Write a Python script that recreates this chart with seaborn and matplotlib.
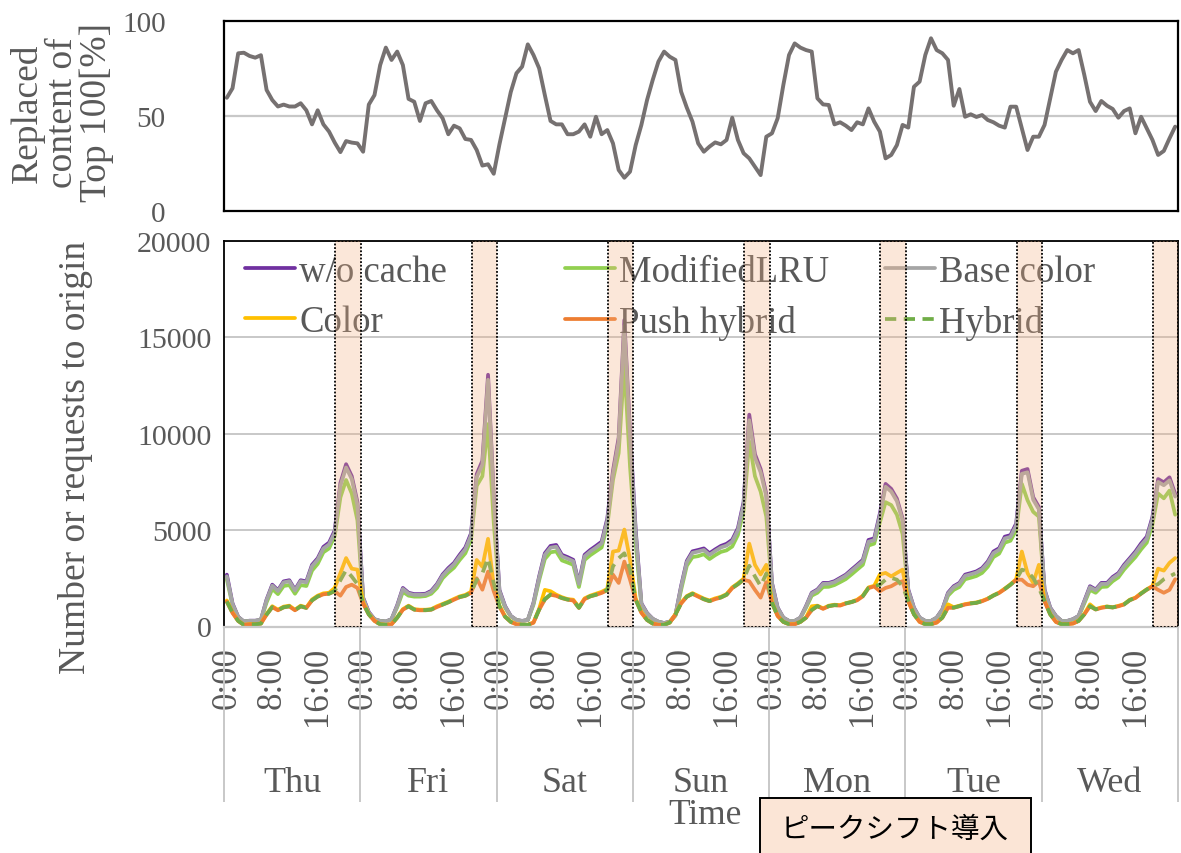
import numpy as np
import pandas as pd
import matplotlib
matplotlib.use("Agg")
import matplotlib.pyplot as plt
import seaborn as sns
from matplotlib.lines import Line2D
from matplotlib.patches import Rectangle

# ---------------- data ----------------
days = ["Thu", "Fri", "Sat", "Sun", "Mon", "Tue", "Wed"]
hour_ticks = [0, 8, 16]
hour_tick_labels = ["0:00", "8:00", "16:00"]

replaced_top100 = [
    59.6, 64.6, 83.0, 83.3, 81.6, 80.7, 82.0, 63.7, 58.4, 55.0, 56.0, 55.0, 55.0, 56.7, 53.0, 45.6, 53.0, 45.6, 41.8, 36.0, 31.0, 36.8, 36.0, 35.6,
    31.2, 56.0, 61.0, 76.8, 86.0, 79.5, 83.9, 76.8, 59.0, 57.5, 47.4, 56.7, 57.9, 53.0, 48.8, 40.4, 44.9, 43.5, 37.9, 37.4, 32.1, 23.9, 24.6, 19.6,
    35.0, 48.8, 62.6, 72.5, 76.0, 87.7, 82.1, 75.1, 61.0, 47.4, 45.6, 45.6, 40.4, 40.4, 41.8, 45.6, 39.1, 49.6, 40.4, 42.6, 35.6, 21.6, 17.5, 20.7,
    34.7, 45.3, 58.4, 69.0, 78.6, 83.9, 81.2, 79.5, 62.8, 54.4, 47.0, 35.6, 31.2, 33.9, 36.1, 35.1, 37.4, 49.1, 37.4, 30.4, 27.7, 23.3, 18.9, 39.1,
    40.9, 48.8, 66.3, 82.1, 88.2, 86.0, 84.7, 83.9, 59.3, 56.1, 55.8, 45.6, 46.7, 44.9, 42.6, 46.7, 45.6, 54.0, 47.0, 41.8, 27.7, 29.5, 34.7, 45.3,
    43.9, 65.4, 68.1, 82.1, 90.9, 84.7, 83.0, 79.5, 55.4, 64.2, 49.6, 50.9, 49.5, 50.5, 47.9, 46.7, 44.9, 43.9, 54.9, 54.9, 43.5, 32.1, 39.1, 39.1,
    45.3, 59.3, 73.3, 79.5, 84.7, 83.0, 84.7, 71.6, 57.5, 52.6, 57.9, 55.4, 53.7, 49.1, 52.6, 54.0, 40.9, 49.6, 43.5, 37.4, 29.5, 31.6, 38.2, 44.4,
]

wo_cache = [
    2690, 1200, 500, 260, 300, 300, 350, 1400, 2170, 1880, 2340, 2400, 1910, 2400, 2340, 3200, 3540, 4130, 4350, 4980, 7450, 8420, 7800, 6450,
    1500, 750, 380, 290, 260, 380, 1100, 2000, 1750, 1680, 1680, 1700, 1850, 2200, 2700, 3030, 3300, 3720, 4100, 4830, 7900, 8600, 13060, 6800,
    1900, 1060, 550, 340, 290, 340, 1230, 2600, 3800, 4180, 4230, 3720, 3600, 3460, 2260, 3720, 3970, 4180, 4400, 5600, 8080, 9800, 15900, 10100,
    5000, 1200, 700, 400, 250, 180, 250, 600, 2100, 3400, 3900, 3970, 4050, 3800, 4000, 4180, 4290, 4500, 5100, 6450, 10990, 8940, 8170, 6880,
    2260, 980, 460, 290, 290, 460, 1060, 1750, 1920, 2260, 2260, 2350, 2520, 2690, 2950, 3200, 3460, 4490, 4570, 5860, 7400, 7140, 6630, 5600,
    1920, 980, 460, 290, 290, 460, 890, 1750, 2090, 2260, 2690, 2770, 2860, 3030, 3370, 3890, 4060, 4660, 4740, 5340, 8080, 8170, 6710, 6200,
    1920, 980, 550, 290, 290, 380, 550, 1320, 2090, 1920, 2260, 2260, 2570, 2770, 3200, 3540, 3890, 4310, 4660, 5680, 7650, 7480, 7740, 6880,
]

modified_lru = [
    2450, 1100, 470, 250, 290, 290, 330, 1250, 1950, 1680, 2100, 2150, 1700, 2150, 2100, 2900, 3250, 3850, 4050, 4700, 6700, 7600, 6900, 5500,
    1300, 680, 360, 280, 250, 360, 1000, 1800, 1600, 1550, 1550, 1580, 1700, 2000, 2500, 2800, 3050, 3450, 3800, 4500, 7300, 7800, 10500, 5400,
    1700, 980, 520, 330, 280, 330, 1130, 2400, 3500, 3850, 3900, 3430, 3320, 3200, 2050, 3450, 3700, 3900, 4100, 5250, 7600, 9000, 13600, 8300,
    4300, 1100, 650, 380, 240, 170, 240, 560, 1900, 3150, 3600, 3650, 3750, 3500, 3700, 3870, 3950, 4150, 4750, 6000, 9600, 7800, 7000, 5700,
    2000, 900, 440, 280, 280, 440, 980, 1600, 1750, 2050, 2060, 2150, 2300, 2460, 2700, 2950, 3200, 4200, 4300, 5400, 6450, 6300, 5800, 4800,
    1700, 900, 440, 280, 280, 440, 830, 1600, 1900, 2050, 2450, 2530, 2620, 2780, 3100, 3600, 3780, 4350, 4450, 5000, 7400, 6550, 5950, 5700,
    1700, 900, 520, 280, 280, 360, 520, 1200, 1900, 1750, 2050, 2070, 2350, 2550, 2950, 3280, 3600, 4000, 4350, 5300, 6900, 6650, 7050, 5800,
]

base_color = [
    2600, 1160, 490, 255, 295, 295, 345, 1370, 2120, 1840, 2290, 2350, 1870, 2350, 2290, 3130, 3470, 4050, 4260, 4880, 7300, 8250, 7650, 6300,
    1460, 730, 370, 285, 255, 370, 1070, 1950, 1710, 1640, 1640, 1660, 1800, 2150, 2640, 2960, 3230, 3640, 4010, 4730, 7750, 8400, 12800, 6650,
    1850, 1030, 540, 335, 285, 335, 1200, 2540, 3720, 4090, 4140, 3640, 3520, 3390, 2210, 3640, 3890, 4090, 4310, 5480, 7900, 9600, 15600, 9900,
    4850, 1170, 680, 390, 245, 175, 245, 590, 2050, 3330, 3820, 3890, 3970, 3720, 3920, 4100, 4200, 4410, 5000, 6320, 10700, 8750, 8000, 6750,
    2220, 960, 455, 285, 285, 455, 1040, 1710, 1880, 2210, 2220, 2300, 2470, 2640, 2890, 3140, 3390, 4400, 4480, 5740, 7250, 7000, 6500, 5500,
    1880, 960, 455, 285, 285, 455, 870, 1710, 2040, 2210, 2630, 2710, 2800, 2970, 3300, 3810, 3980, 4570, 4650, 5240, 7920, 8000, 6580, 6080,
    1880, 960, 540, 285, 285, 375, 540, 1290, 2040, 1880, 2210, 2210, 2510, 2710, 3130, 3470, 3810, 4220, 4560, 5570, 7500, 7330, 7580, 6740,
]

color_policy = [
    1350, 730, 300, 90, 120, 120, 160, 650, 1050, 870, 1030, 1080, 870, 1080, 990, 1400, 1600, 1720, 1750, 2000, 2780, 3550, 3000, 2950,
    1250, 650, 300, 120, 90, 120, 480, 900, 1080, 900, 870, 870, 900, 1050, 1170, 1290, 1430, 1560, 1640, 1800, 3450, 3100, 4550, 2100,
    1080, 530, 250, 120, 90, 90, 210, 920, 1900, 1830, 1650, 1520, 1420, 1390, 1000, 1460, 1600, 1700, 1800, 1950, 3890, 3940, 5030, 3460,
    1450, 740, 350, 160, 90, 90, 210, 650, 1230, 1580, 1730, 1590, 1450, 1350, 1460, 1540, 1680, 2030, 2240, 2480, 4300, 3200, 2700, 3200,
    1260, 560, 245, 125, 125, 245, 470, 1050, 1080, 940, 1080, 1130, 1110, 1210, 1280, 1390, 1600, 2030, 2110, 2700, 2780, 2600, 2780, 2950,
    1330, 650, 245, 125, 125, 210, 470, 1150, 1000, 1080, 1160, 1210, 1250, 1330, 1450, 1620, 1760, 1970, 2190, 2450, 3890, 2770, 2260, 3200,
    1330, 650, 245, 125, 125, 160, 300, 650, 1150, 900, 990, 1040, 1000, 1070, 1160, 1390, 1500, 1730, 1930, 2100, 3000, 2900, 3300, 3550,
]

push_hybrid = [
    1280, 700, 285, 80, 115, 115, 150, 610, 1000, 840, 990, 1040, 840, 1040, 960, 1350, 1550, 1670, 1700, 1830, 1600, 2050, 2170, 2000,
    1180, 620, 285, 110, 80, 110, 450, 870, 1040, 870, 840, 840, 870, 1010, 1130, 1250, 1390, 1520, 1590, 1740, 2500, 1910, 2850, 1830,
    1040, 500, 235, 110, 80, 80, 195, 870, 1400, 1650, 1590, 1470, 1390, 1350, 960, 1420, 1560, 1640, 1740, 1880, 2690, 2260, 3370, 2430,
    1380, 710, 335, 150, 80, 80, 200, 620, 1190, 1540, 1690, 1550, 1410, 1310, 1420, 1500, 1640, 1990, 2190, 2420, 2350, 1900, 1500, 2300,
    1220, 540, 235, 115, 115, 235, 455, 850, 1050, 915, 1050, 1100, 1085, 1190, 1260, 1360, 1565, 1990, 2080, 1830, 2000, 2090, 2260, 2350,
    1300, 625, 235, 115, 115, 200, 455, 970, 970, 1050, 1140, 1190, 1225, 1310, 1430, 1600, 1740, 1940, 2160, 2420, 2430, 2170, 2090, 2345,
    1300, 625, 235, 115, 115, 150, 285, 625, 1050, 880, 965, 1015, 985, 1050, 1140, 1360, 1480, 1700, 1905, 2080, 1900, 1750, 1900, 2450,
]

hybrid = [
    1300, 710, 290, 85, 115, 115, 150, 620, 1010, 850, 1000, 1050, 850, 1050, 970, 1360, 1560, 1680, 1700, 1850, 2400, 2930, 2590, 2200,
    1200, 630, 290, 115, 85, 115, 460, 880, 1050, 880, 850, 850, 880, 1020, 1140, 1260, 1400, 1530, 1600, 1750, 2420, 2760, 3550, 2250,
    1050, 510, 240, 115, 85, 85, 200, 880, 1420, 1660, 1600, 1480, 1400, 1360, 970, 1430, 1570, 1650, 1750, 1900, 3120, 3540, 3800, 2950,
    1400, 720, 340, 150, 85, 85, 205, 630, 1200, 1550, 1700, 1560, 1420, 1320, 1430, 1510, 1650, 2000, 2200, 2450, 3150, 2600, 2100, 2750,
    1230, 550, 240, 120, 120, 240, 460, 860, 1060, 920, 1060, 1110, 1100, 1200, 1270, 1370, 1580, 2000, 2090, 2170, 2430, 2520, 2430, 2090,
    1320, 630, 240, 120, 120, 205, 460, 980, 980, 1060, 1150, 1200, 1230, 1320, 1440, 1610, 1750, 1950, 2170, 2430, 2950, 2860, 2520, 2000,
    1320, 630, 240, 120, 120, 155, 290, 630, 1060, 890, 980, 1030, 990, 1060, 1150, 1370, 1490, 1710, 1920, 2090, 2200, 2450, 2600, 2750,
]

series_names = ["w/o cache", "ModifiedLRU", "Base color", "Color", "Push hybrid", "Hybrid"]
series_values = [wo_cache, modified_lru, base_color, color_policy, push_hybrid, hybrid]
annotation_text = "ピークシフト導入"

# ---------------- styles ----------------
series_colors = ["#7030A0", "#92D050", "#A5A5A5", "#FFC000", "#ED7D31", "#70AD47"]
TEXT = "#595959"
GRID = "#C8C8C8"
PEAK_START, PEAK_END = 19.6, 24.1  # hours within each day

sns.set_theme(style="white")
plt.rcParams["font.family"] = ["Liberation Serif", "DejaVu Serif"]

W, H = 1181, 854
fig = plt.figure(figsize=(W / 100, H / 100), dpi=100)


def fx(px):
    return px / W


def fy(py):
    return 1 - py / H


L, R = 224, 1178
ax_top = fig.add_axes([fx(L), fy(212), (R - L) / W, (212 - 22) / H])
ax = fig.add_axes([fx(L), fy(627.5), (R - L) / W, (627.5 - 242) / H])

n = len(wo_cache)
df = pd.DataFrame({"hour": np.arange(n) + 0.5, "replaced": replaced_top100})
for name, vals in zip(series_names, series_values):
    df[name] = vals

# ---- top panel ----
sns.lineplot(data=df, x="hour", y="replaced", ax=ax_top, color="#767171",
             linewidth=2.8, estimator=None)
ax_top.set_xlim(0, n)
ax_top.set_ylim(0, 100)
ax_top.set_yticks([0, 50, 100])
ax_top.set_yticklabels(["0", "50", "100"])
ax_top.set_xticks([])
ax_top.set_xlabel("")
ax_top.set_ylabel("")
ax_top.tick_params(axis="y", length=0, pad=42, labelsize=21, labelcolor=TEXT)
ax_top.axhline(50, color=GRID, lw=1.6, zorder=0)
for s in ax_top.spines.values():
    s.set_color("black")
    s.set_linewidth(1.6)

# ---- bottom panel ----
for name, col in zip(series_names, series_colors):
    kw = dict(color=col, linewidth=2.7, estimator=None)
    if name == "Hybrid":
        kw["dashes"] = (3, 2)
    sns.lineplot(data=df, x="hour", y=name, ax=ax, **kw)
ax.set_xlim(0, n)
ax.set_ylim(0, 20000)
ax.set_yticks(range(0, 20001, 5000))
ax.yaxis.grid(True, color=GRID, lw=1.4)
ax.set_axisbelow(True)
ax.set_xlabel("")
ax.set_ylabel("")
ax.tick_params(axis="y", length=0, pad=9, labelsize=21.5, labelcolor=TEXT)

major_pos = [24 * d + h + 0.5 for d in range(len(days)) for h in hour_ticks]
major_lab = [lab for d in range(len(days)) for lab in hour_tick_labels]
ax.set_xticks(major_pos)
ax.set_xticklabels(major_lab, rotation=90, fontsize=25, color=TEXT)
ax.set_xticks([24 * d for d in range(len(days) + 1)], minor=True)
ax.tick_params(axis="x", which="major", length=0, pad=14)
ax.tick_params(axis="x", which="minor", length=126, width=1.4, color=GRID,
               direction="out", bottom=True)

for k in ["left", "top", "right"]:
    ax.spines[k].set_color("black")
    ax.spines[k].set_linewidth(1.3)
ax.spines["bottom"].set_color(GRID)
ax.spines["bottom"].set_linewidth(1.6)

for d, name in enumerate(days):
    ax.annotate(name, xy=(24 * d + 12, 0), xycoords=("data", "axes fraction"),
                xytext=(0, -112.5), textcoords="offset points", ha="center",
                va="center", fontsize=26, color=TEXT, annotation_clip=False)

# peak-shift shading
for d in range(len(days)):
    x0 = 24 * d + PEAK_START
    x1 = min(24 * d + PEAK_END, n)
    ax.axvspan(x0, x1, facecolor=(0.957, 0.694, 0.514, 0.3), edgecolor="black",
               linestyle=(0, (1, 1)), linewidth=1.3, zorder=6)

# legend: three columns
handles = []
for name, col in zip(series_names, series_colors):
    if name == "Hybrid":
        h = Line2D([], [], color=col, lw=2.7, dashes=(3, 2))
    else:
        h = Line2D([], [], color=col, lw=2.7)
    handles.append(h)
col_groups = [(0, 3), (1, 4), (2, 5)]
col_x = [(245 - L) / (R - L), (565 - L) / (R - L), (885 - L) / (R - L)]
legs = []
for (i, j), xa in zip(col_groups, col_x):
    leg = ax.legend([handles[i], handles[j]], [series_names[i], series_names[j]],
                    loc="upper left", bbox_to_anchor=(xa, 0.964), frameon=False,
                    fontsize=26.5, handlelength=1.36, handletextpad=0.12,
                    labelspacing=0.42, borderpad=0, borderaxespad=0)
    for t in leg.get_texts():
        t.set_color(TEXT)
    leg.set_zorder(4)
    legs.append(leg)
for leg in legs[:-1]:
    ax.add_artist(leg)

# axis titles
fig.text(fx(76), fy(457), "Number or requests to origin", rotation=90,
         ha="center", va="center", fontsize=27, color=TEXT)
fig.text(fx(62), fy(113), "Replaced\ncontent of\nTop 100[%]", rotation=90,
         ha="center", va="center", fontsize=27, color=TEXT, linespacing=1.0,
         multialignment="center")
fig.text(fx(705), fy(816), "Time", ha="center", va="center", fontsize=25.5,
         color=TEXT)

# annotation box
fig.patches.append(Rectangle((fx(760), fy(870)), (1031 - 760) / W, (870 - 799) / H,
                             transform=fig.transFigure, facecolor="#FBE5D6",
                             edgecolor="black", linewidth=1.4, zorder=1))
fig.text(fx(895), fy(830), annotation_text, ha="center", va="center",
         fontsize=20.5, color="black", family=["Noto Sans CJK JP", "DejaVu Sans"],
         zorder=2)

fig.savefig("out.png", dpi=100)
